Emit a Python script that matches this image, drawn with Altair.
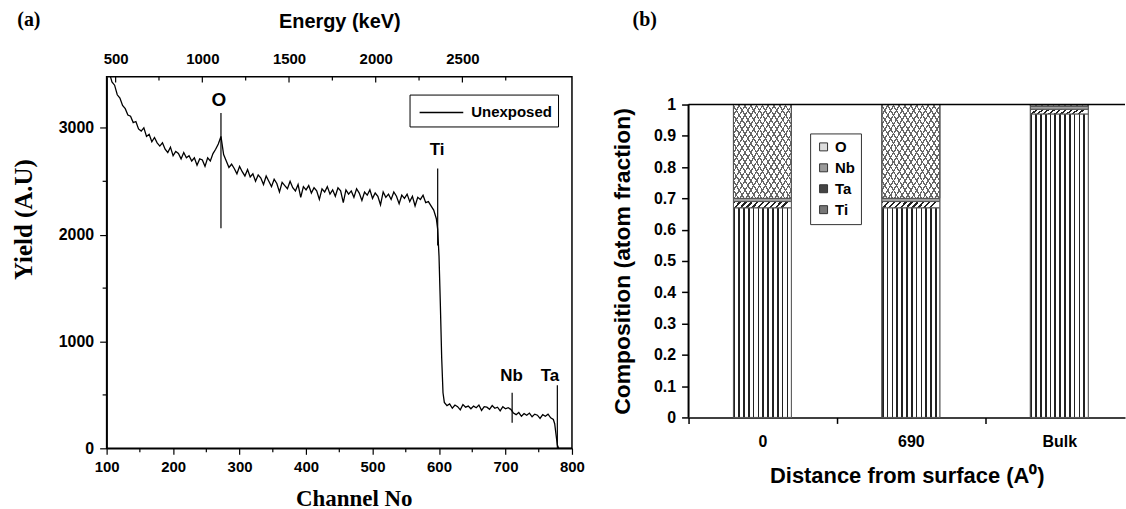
import altair as alt
import pandas as pd

# ---------------- Panel (a): RBS spectrum ----------------
channels = [104, 108, 112, 116, 120, 124, 128, 132, 136, 140,
            144, 148, 152, 156, 160, 164, 168, 172, 176, 180,
            184, 188, 192, 196, 200, 204, 208, 212, 216, 220,
            224, 228, 232, 236, 240, 244, 248, 252, 256, 260,
            264, 268, 272, 276, 280, 284, 288, 292, 296, 300,
            304, 308, 312, 316, 320, 324, 328, 332, 336, 340,
            344, 348, 352, 356, 360, 364, 368, 372, 376, 380,
            384, 388, 392, 396, 400, 404, 408, 412, 416, 420,
            424, 428, 432, 436, 440, 444, 448, 452, 456, 460,
            464, 468, 472, 476, 480, 484, 488, 492, 496, 500,
            504, 508, 512, 516, 520, 524, 528, 532, 536, 540,
            544, 548, 552, 556, 560, 564, 568, 572, 576, 580,
            584, 588, 592, 596, 598, 600, 602, 604, 606, 608,
            612, 616, 620, 624, 628, 632, 636, 640, 644, 648,
            652, 656, 660, 664, 668, 672, 676, 680, 684, 688,
            692, 696, 700, 704, 708, 712, 716, 720, 724, 728,
            732, 736, 740, 744, 748, 752, 756, 760, 764, 768,
            772, 774, 776, 778, 780, 790, 800]
yields = [3520, 3430, 3400, 3310, 3280, 3210, 3180, 3120, 3110, 3050,
          3060, 2990, 2970, 3000, 2920, 2940, 2870, 2910, 2860, 2830,
          2860, 2800, 2770, 2820, 2740, 2780, 2760, 2710, 2770, 2720,
          2740, 2690, 2720, 2650, 2710, 2700, 2640, 2720, 2690, 2760,
          2800, 2850, 2920, 2750, 2690, 2630, 2660, 2620, 2570, 2640,
          2590, 2550, 2610, 2540, 2570, 2500, 2560, 2530, 2470, 2550,
          2500, 2450, 2520, 2480, 2400, 2490, 2460, 2430, 2500, 2440,
          2410, 2470, 2350, 2450, 2420, 2460, 2390, 2440, 2410, 2330,
          2430, 2400, 2450, 2380, 2420, 2360, 2440, 2410, 2300, 2420,
          2380, 2410, 2350, 2430, 2390, 2320, 2400, 2370, 2420, 2340,
          2390, 2360, 2280, 2400, 2350, 2380, 2330, 2400, 2360, 2290,
          2370, 2340, 2380, 2310, 2360, 2270, 2350, 2330, 2370, 2300,
          2310, 2270, 2230, 2150, 2050, 1800, 1350, 850, 520, 430,
          400, 415, 375, 405, 390, 360, 410, 385, 395, 370,
          395, 380, 405, 355, 390, 385, 365, 400, 375, 385,
          350, 390, 370, 380, 365, 330, 315, 335, 300, 325,
          310, 330, 295, 320, 310, 280, 315, 300, 320, 285,
          270, 230, 130, 30, 0, 0, 0]
series_name = "Unexposed"

peak_names = ["O", "Ti", "Nb", "Ta"]
peak_channels = [272, 598, 710, 778]
peak_line_top = [3140, 2620, 520, 590]
peak_line_bottom = [2060, 1900, 240, 0]
peak_label_channels = [269, 597, 709, 767]
peak_label_yields = [3265, 2790, 680, 680]
peak_label_sizes = [19, 17, 17, 17]

channel_ticks = [100, 200, 300, 400, 500, 600, 700, 800]
channel_minor = [150, 250, 350, 450, 550, 650, 750]
yield_ticks = [0, 1000, 2000, 3000]
yield_minor = [500, 1500, 2500]
energy_major = [500, 1000, 1500, 2000, 2500]
energy_minor = [750, 1250, 1750, 2250, 2750]

# ---------------- Panel (b): composition ----------------
samples = ["0", "690", "Bulk"]
legend_order = ["O", "Nb", "Ta", "Ti"]
frac_ti = [0.67, 0.67, 0.97]
frac_ta = [0.02, 0.02, 0.015]
frac_nb = [0.01, 0.01, 0.01]
frac_o = [0.30, 0.30, 0.005]
comp_ticks = [0, 0.1, 0.2, 0.3, 0.4, 0.5, 0.6, 0.7, 0.8, 0.9, 1]

SANS = "Liberation Sans"
SERIF = "Liberation Serif"

# ---------- build panel (a) ----------
spec_df = pd.DataFrame({"channel": channels, "yield": yields, "series": series_name})
peak_df = pd.DataFrame({"name": peak_names, "channel": peak_channels,
                        "top": peak_line_top, "bottom": peak_line_bottom,
                        "lch": peak_label_channels, "ly": peak_label_yields,
                        "size": peak_label_sizes})

xa_scale = alt.Scale(domain=[100, 800], nice=False, zero=False)
ya_scale = alt.Scale(domain=[0, 3480], nice=False)

xa_axis = alt.Axis(values=channel_ticks, format="d", title="Channel No", grid=False,
                   tickSize=6, tickColor="black", tickWidth=1.2,
                   domainColor="black", domainWidth=1.5, labelFlush=False,
                   labelFont=SANS, labelFontWeight="bold", labelFontSize=15,
                   labelColor="black", labelPadding=5,
                   titleFont=SERIF, titleFontWeight="bold", titleFontSize=23,
                   titleColor="black", titleX=248, titleY=50,
                   titleAlign="center", titleBaseline="middle")
ya_axis = alt.Axis(values=yield_ticks, format="d", title="Yield (A.U)", grid=False,
                   tickSize=7, tickColor="black", tickWidth=1.2,
                   domainColor="black", domainWidth=1.5, labelFlush=False,
                   labelFont=SANS, labelFontWeight="bold", labelFontSize=16,
                   labelColor="black", labelPadding=6,
                   titleFont=SERIF, titleFontWeight="bold", titleFontSize=25,
                   titleColor="black", titleX=-83, titleY=143,
                   titleAlign="center", titleBaseline="middle", titleAngle=270)

line = alt.Chart(spec_df).mark_line(strokeWidth=1.3, clip=True).encode(
    x=alt.X("channel:Q", scale=xa_scale, axis=xa_axis),
    y=alt.Y("yield:Q", scale=ya_scale, axis=ya_axis),
    color=alt.Color("series:N", scale=alt.Scale(range=["black"]),
                    legend=alt.Legend(orient="none", legendX=304, legendY=18, title=None,
                                      strokeColor="black", fillColor="white", padding=6,
                                      symbolType="M-2,0H2", symbolStrokeWidth=1.6,
                                      symbolSize=480, symbolOffset=14, labelOffset=18,
                                      labelFont=SANS, labelFontWeight="bold",
                                      labelFontSize=15, labelColor="black")),
)

peak_rules = alt.Chart(peak_df).mark_rule(color="black", strokeWidth=1.2).encode(
    x=alt.X("channel:Q", scale=xa_scale, axis=xa_axis),
    y=alt.Y("top:Q", scale=ya_scale, axis=ya_axis),
    y2="bottom:Q",
)
peak_text = alt.Chart(peak_df).mark_text(font=SANS, fontWeight="bold", color="black",
                                         baseline="middle", align="center").encode(
    x=alt.X("lch:Q", scale=xa_scale, axis=xa_axis),
    y=alt.Y("ly:Q", scale=ya_scale, axis=ya_axis),
    text="name:N",
    size=alt.Size("size:Q", scale=None, legend=None),
)

minor_y = alt.Chart(pd.DataFrame({"v": yield_minor})).mark_rule(color="black", strokeWidth=1.2).encode(
    y=alt.Y("v:Q", scale=ya_scale, axis=ya_axis), x=alt.value(-4), x2=alt.value(0))
minor_x = alt.Chart(pd.DataFrame({"v": channel_minor})).mark_rule(color="black", strokeWidth=1.2).encode(
    x=alt.X("v:Q", scale=xa_scale, axis=xa_axis), y=alt.value(373), y2=alt.value(377))

tag_a = alt.Chart(pd.DataFrame({"t": ["(a)"]})).mark_text(
    font=SERIF, fontWeight="bold", fontSize=20, color="black", align="center", baseline="middle"
).encode(text="t:N", x=alt.value(-78), y=alt.value(-57))

inner_a = alt.layer(line, peak_rules, peak_text, minor_y, minor_x, tag_a)

e_scale = alt.Scale(domain=[448, 3132], nice=False, zero=False)
e_axis = alt.Axis(orient="top", values=energy_major, format="d", title="Energy (keV)",
                  ticks=False, domain=False, grid=False, labelFlush=False,
                  labelFont=SANS, labelFontWeight="bold", labelFontSize=15,
                  labelColor="black", labelPadding=10,
                  titleFont=SANS, titleFontWeight="bold", titleFontSize=20,
                  titleColor="black", titlePadding=20)
energy_major_rules = alt.Chart(pd.DataFrame({"e": energy_major})).mark_rule(
    color="black", strokeWidth=1.2).encode(
    x=alt.X("e:Q", scale=e_scale, axis=e_axis), y=alt.value(0), y2=alt.value(6))
energy_minor_rules = alt.Chart(pd.DataFrame({"e": energy_minor})).mark_rule(
    color="black", strokeWidth=1.2).encode(
    x=alt.X("e:Q", scale=e_scale, axis=e_axis), y=alt.value(0), y2=alt.value(4))
energy_layer = alt.layer(energy_major_rules, energy_minor_rules)

panel_a = alt.layer(inner_a, energy_layer).resolve_scale(x="independent").properties(
    width=467, height=373,
    view=alt.ViewBackground(stroke="black", strokeWidth=1.5),
)

# ---------- build panel (b) ----------
rows = []
for i, s in enumerate(samples):
    base = 0.0
    for comp, vals in [("Ti", frac_ti), ("Ta", frac_ta), ("Nb", frac_nb), ("O", frac_o)]:
        rows.append({"sample": s, "component": comp, "y0": base, "y1": base + vals[i]})
        base += vals[i]
comp_df = pd.DataFrame(rows)


def stripes(n, dark, color, bg, x1=0, y1=0, x2=1, y2=0):
    stops = []
    for k in range(n):
        a = k / n
        b = (k + dark) / n
        c = (k + 1) / n
        stops += [alt.GradientStop(offset=a, color=color), alt.GradientStop(offset=b, color=color),
                  alt.GradientStop(offset=b, color=bg), alt.GradientStop(offset=c, color=bg)]
    return alt.LinearGradient(gradient="linear", stops=stops, x1=x1, y1=y1, x2=x2, y2=y2)


xb_axis = alt.Axis(title="Distance from surface (A\u2070)", labelAngle=0, grid=False,
                   tickSize=6, tickColor="black", tickWidth=1.5,
                   tickOffset=-74.5, labelOffset=74.5,
                   domainColor="black", domainWidth=1.5,
                   labelFont=SANS, labelFontWeight="bold", labelFontSize=16,
                   labelColor="black", labelPadding=10,
                   titleFont=SANS, titleFontWeight="bold", titleFontSize=22,
                   titleColor="black", titlePadding=16)
xb = alt.X("sample:N", sort=samples,
           scale=alt.Scale(paddingInner=0.61, paddingOuter=0.275, align=0.55),
           axis=xb_axis)
# the top 28 px of the panel are left empty so that its plot starts lower than panel (a)
yb_scale = alt.Scale(domain=[0, 1.0892], nice=False)
yb_axis = alt.Axis(values=comp_ticks, format="~g", title="Composition (atom fraction)",
                   grid=False, tickSize=7, tickColor="black", tickWidth=1.5,
                   domain=False,
                   labelFont=SANS, labelFontWeight="bold", labelFontSize=16,
                   labelColor="black", labelPadding=6,
                   titleFont=SANS, titleFontWeight="bold", titleFontSize=23,
                   titleColor="black", titleX=-66, titleY=185, titleAngle=270,
                   titleAlign="center", titleBaseline="middle")
yb = alt.Y("y0:Q", scale=yb_scale, axis=yb_axis)

base_bar = alt.Chart(comp_df).mark_bar(stroke="#555", strokeWidth=1).encode(
    x=xb, y=yb, y2="y1:Q",
    fill=alt.Fill("component:N",
                  scale=alt.Scale(domain=legend_order,
                                  range=["#dddddd", "#9a9a9a", "#444444", "#777777"]),
                  legend=alt.Legend(orient="none", legendX=122, legendY=57, title=None,
                                    strokeColor="#333", fillColor="white", padding=6,
                                    symbolType="square", symbolSize=64,
                                    symbolStrokeColor="#333", symbolStrokeWidth=1,
                                    rowPadding=5, labelOffset=4,
                                    labelFont=SANS, labelFontWeight="bold",
                                    labelFontSize=15, labelColor="black")),
)


def comp_layer(comp, fill):
    return alt.Chart(comp_df).transform_filter(alt.datum.component == comp).mark_bar(
        fill=fill, stroke="#555", strokeWidth=1).encode(x=xb, y=yb, y2="y1:Q")


ti_layer = comp_layer("Ti", stripes(12, 0.35, "#222222", "#ffffff"))
ta_layer = comp_layer("Ta", stripes(10, 0.4, "#222222", "#ffffff", x2=1, y2=0.1))
nb_layer = comp_layer("Nb", "#a0a0a0")
o_layer1 = comp_layer("O", stripes(20, 0.25, "#666666", "#ffffff", x1=0, y1=0, x2=1, y2=1))
o_layer2 = comp_layer("O", stripes(20, 0.25, "#666666", "rgba(255,255,255,0)", x1=1, y1=0, x2=0, y2=1))

frame_df = pd.DataFrame({"y0": [0], "y1": [1]})
top_rule = alt.Chart(frame_df).mark_rule(color="black", strokeWidth=1.5).encode(
    y=alt.Y("y1:Q", scale=yb_scale, axis=yb_axis))
left_rule = alt.Chart(frame_df).mark_rule(color="black", strokeWidth=2).encode(
    y=alt.Y("y0:Q", scale=yb_scale, axis=yb_axis), y2="y1:Q", x=alt.value(0))

tag_b = alt.Chart(pd.DataFrame({"t": ["(b)"]})).mark_text(
    font=SERIF, fontWeight="bold", fontSize=20, color="black", align="center", baseline="middle"
).encode(text="t:N", x=alt.value(-44), y=alt.value(-57))

panel_b = alt.layer(base_bar, ti_layer, ta_layer, nb_layer, o_layer1, o_layer2,
                    top_rule, left_rule, tag_b).properties(
    width=438, height=342,
    view=alt.ViewBackground(stroke=None),
)

chart = alt.hconcat(panel_a, panel_b, spacing=25).resolve_legend(
    color="independent", fill="independent", size="independent"
).properties(
    padding={"left": 11, "top": 8, "right": 0, "bottom": 0},
    background="white",
).configure(font=SANS).configure_view(stroke=None)

chart.save("out.html", embed_options={"renderer": "svg", "actions": False})
